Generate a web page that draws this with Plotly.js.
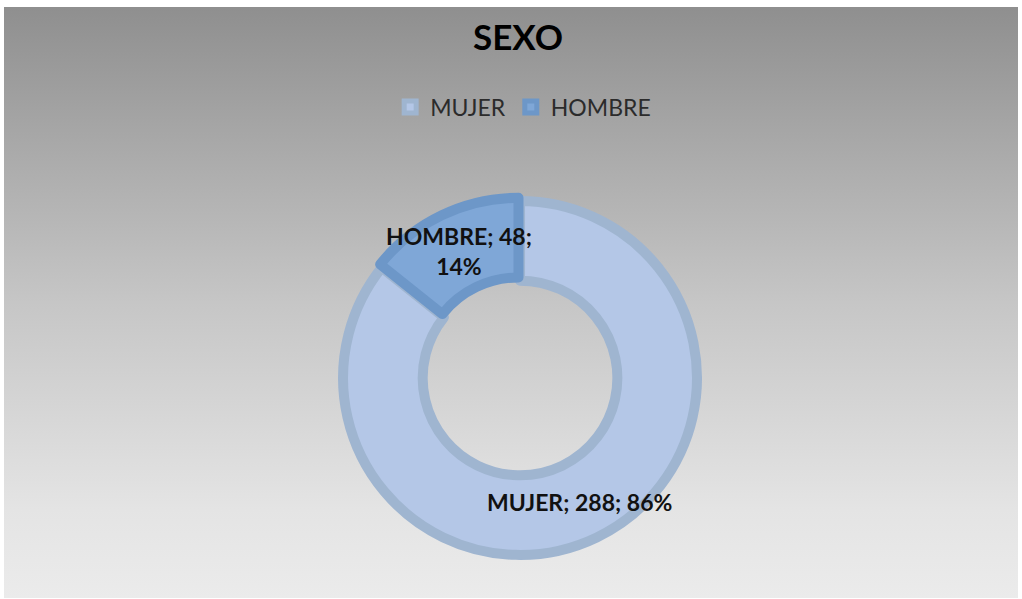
<!DOCTYPE html>
<html>
<head>
<meta charset="utf-8">
<script src="https://cdn.plot.ly/plotly-3.0.1.min.js"></script>
<style>
  body { margin: 0; background: #ffffff; }
  #frame {
    position: absolute; left: 4px; top: 7px; width: 1014px; height: 591px;
    background: linear-gradient(to bottom, #8f8f8f 0%, #c6c6c6 50%, #e4e4e4 85%, #ebebeb 100%);
  }
  #chart { width: 1014px; height: 591px; }
</style>
</head>
<body>
<div id="frame"><div id="chart"></div></div>
<script>
// data
const labels = ['MUJER', 'HOMBRE']
const values = [288, 48]
const fillColors = ['#b4c7e7', '#7fa7d7']
const edgeColors = ['#9fb5d0', '#6d97c8']
const pulls = [0, 0.02]

const W = 1014, H = 591
const dom = { x: [0.3309, 0.6869], y: [0.0669, 0.6777] }
const fontFam = 'Lato, "Open Sans", sans-serif'

const donut = {
  type: 'pie',
  labels: labels,
  values: values,
  hole: 0.55,
  sort: false,
  direction: 'clockwise',
  rotation: 0,
  pull: pulls,
  textinfo: 'none',
  hoverinfo: 'label+value+percent',
  domain: dom,
  marker: { colors: fillColors, line: { color: edgeColors, width: 10 } }
}

// label positions worked out from the values (mid angle of each slice)
const total = values.reduce((a, b) => a + b, 0)
const cx = (dom.x[0] + dom.x[1]) / 2 * W
const cy = (1 - (dom.y[0] + dom.y[1]) / 2) * H
const rOut = Math.min((dom.x[1] - dom.x[0]) * W, (dom.y[1] - dom.y[0]) * H) / 2 / (1 + Math.max(...pulls))
const rMid = rOut * (1 + donut.hole) / 2
let cum = 0
const annotations = values.map((v, i) => {
  const mid = (cum + v / 2) / total
  cum += v
  const ang = mid * 2 * Math.PI
  const r = rMid + pulls[i] * rOut
  const px = cx + r * Math.sin(ang)
  const py = cy - r * Math.cos(ang)
  const pct = Math.round(v / total * 100) + '%'
  const txt = i === 0 ? labels[i] + '; ' + v + '; ' + pct : labels[i] + '; ' + v + ';<br>' + pct
  return {
    xref: 'paper', yref: 'paper', x: px / W, y: 1 - py / H,
    xanchor: 'center', yanchor: 'middle', showarrow: false,
    text: '<b>' + txt + '</b>', align: 'center',
    font: { family: fontFam, size: 23, color: '#111111' }
  }
})

const layout = {
  width: W, height: H,
  margin: { l: 0, r: 0, t: 0, b: 0 },
  paper_bgcolor: 'rgba(0,0,0,0)',
  plot_bgcolor: 'rgba(0,0,0,0)',
  title: {
    text: '<b>SEXO</b>',
    font: { family: fontFam, size: 35, color: '#000000' },
    x: 0.507, xanchor: 'center', y: 1 - 31 / H, yanchor: 'middle'
  },
  showlegend: true,
  legend: {
    orientation: 'h', x: 0.512, xanchor: 'center', y: 1 - 100 / H, yanchor: 'middle',
    font: { family: fontFam, size: 23, color: '#2b2b2b' },
    itemwidth: 30, bgcolor: 'rgba(0,0,0,0)'
  },
  annotations: annotations
}

Plotly.newPlot('chart', [donut], layout, { displayModeBar: false, staticPlot: true })
</script>
</body>
</html>
